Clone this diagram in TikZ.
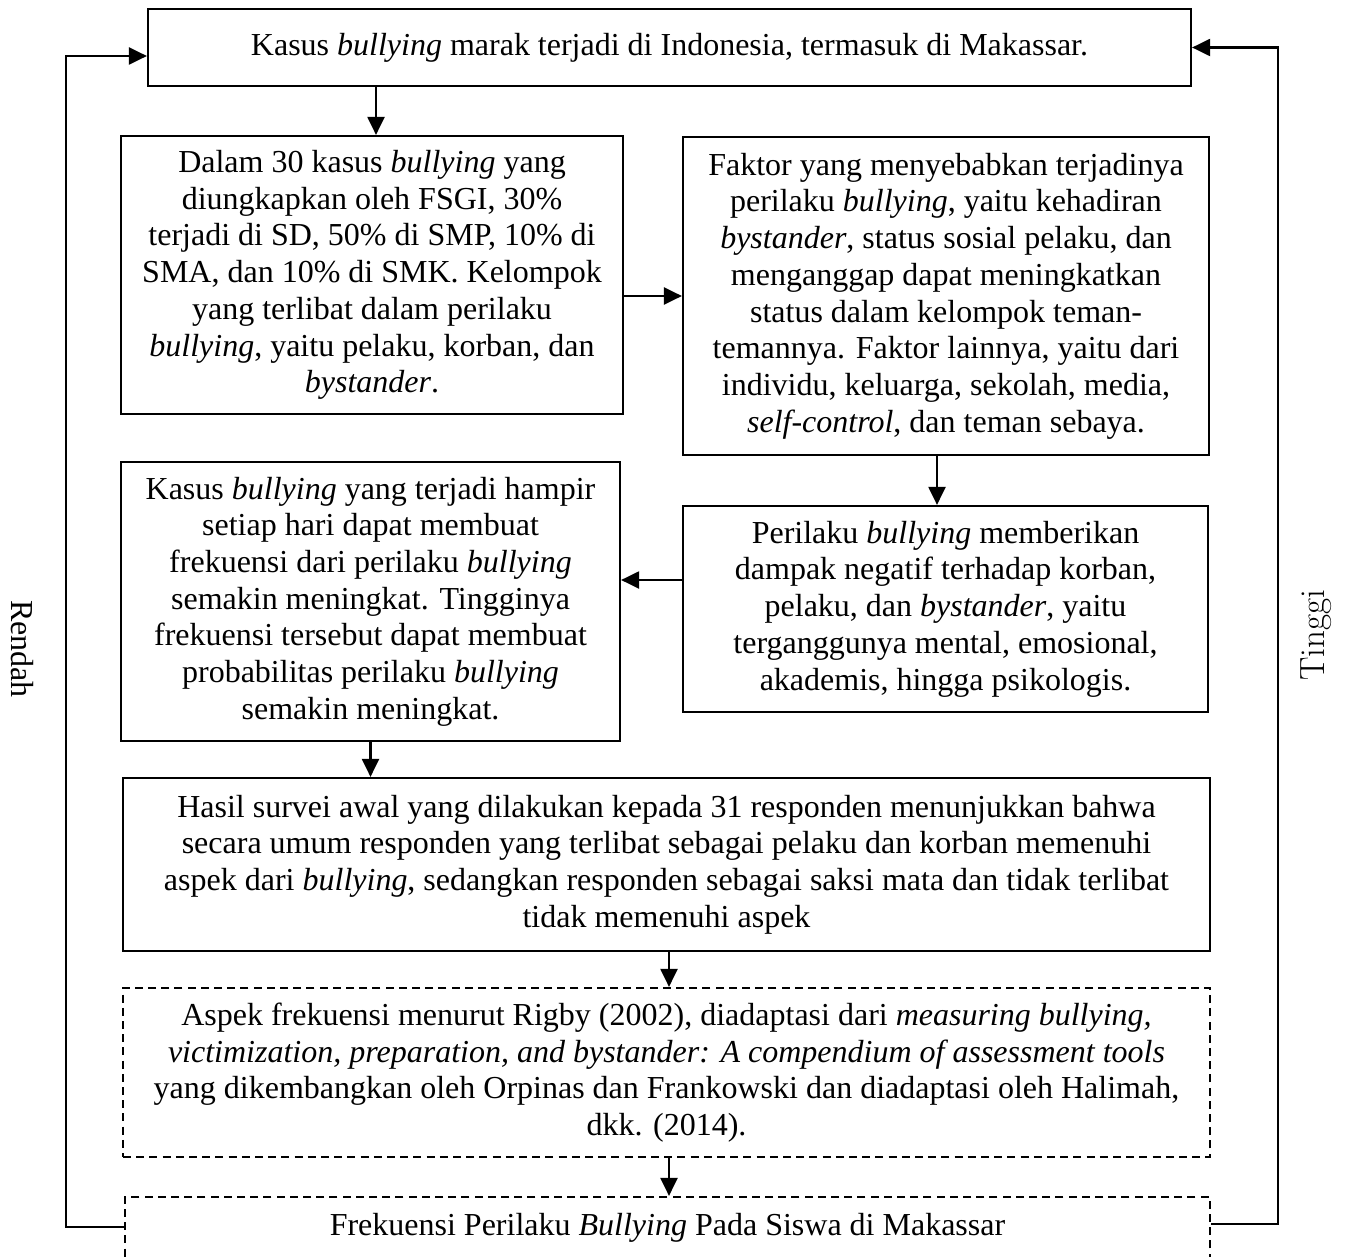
\documentclass[tikz,border=0pt]{standalone}
\usepackage{fontspec}
\newfontfamily\tnr{Liberation Serif}
\usetikzlibrary{arrows.meta,calc}
\begin{document}
\begin{tikzpicture}[x=0.5pt,y=-0.5pt,
  box/.style={draw,line width=1.1pt,align=center,inner sep=0pt,
    font=\tnr\fontsize{16}{18.35}\selectfont},
  dbox/.style={box,dash pattern=on 4pt off 2.6pt},
  arr/.style={line width=1.1pt,-{Triangle[length=9pt,width=8.5pt]}},
  lbl/.style={font=\fontsize{17.5}{20}\selectfont}]
\useasboundingbox (0,0) rectangle (1348,1257);
\clip (0,0) rectangle (1348,1257);

\node[box,minimum width=521.5pt,minimum height=38.5pt] (T) at (669.5,47.5)
  {Kasus \textit{bullying} marak terjadi di Indonesia, termasuk di Makassar.};

\node[box,minimum width=251pt,minimum height=139pt] (A) at (372,275)
  {Dalam 30 kasus \textit{bullying} yang\\
   diungkapkan oleh FSGI, 30\%\\
   terjadi di SD, 50\% di SMP, 10\% di\\
   SMA, dan 10\% di SMK. Kelompok\\
   yang terlibat dalam perilaku\\
   \textit{bullying}, yaitu pelaku, korban, dan\\
   \textit{bystander}.};

\node[box,minimum width=263pt,minimum height=159pt] (B) at (946,296)
  {Faktor yang menyebabkan terjadinya\\
   perilaku \textit{bullying}, yaitu kehadiran\\
   \textit{bystander}, status sosial pelaku, dan\\
   menganggap dapat meningkatkan\\
   status dalam kelompok teman-\\
   temannya. Faktor lainnya, yaitu dari\\
   individu, keluarga, sekolah, media,\\
   \textit{self-control}, dan teman sebaya.};

\node[box,minimum width=262.5pt,minimum height=103pt] (C) at (945.5,609)
  {Perilaku \textit{bullying} memberikan\\
   dampak negatif terhadap korban,\\
   pelaku, dan \textit{bystander}, yaitu\\
   terganggunya mental, emosional,\\
   akademis, hingga psikologis.};

\node[box,minimum width=249.5pt,minimum height=139.5pt] (D) at (370.5,601.5)
  {Kasus \textit{bullying} yang terjadi hampir\\
   setiap hari dapat membuat\\
   frekuensi dari perilaku \textit{bullying}\\
   semakin meningkat. Tingginya\\
   frekuensi tersebut dapat membuat\\
   probabilitas perilaku \textit{bullying}\\
   semakin meningkat.};

\node[box,minimum width=543.5pt,minimum height=86.5pt] (E) at (666.5,864.5)
  {Hasil survei awal yang dilakukan kepada 31 responden menunjukkan bahwa\\
   secara umum responden yang terlibat sebagai pelaku dan korban memenuhi\\
   aspek dari \textit{bullying}, sedangkan responden sebagai saksi mata dan tidak terlibat\\
   tidak memenuhi aspek};

\node[dbox,minimum width=543.5pt,minimum height=84.5pt] (F) at (666.5,1072.5)
  {Aspek frekuensi menurut Rigby (2002), diadaptasi dari \textit{measuring bullying,}\\
   \textit{victimization, preparation, and bystander: A compendium of assessment tools}\\
   yang dikembangkan oleh Orpinas dan Frankowski dan diadaptasi oleh Halimah,\\
   dkk. (2014).};

\node[dbox,minimum width=542.5pt,minimum height=31pt] (G) at (667.5,1228)
  {Frekuensi Perilaku \textit{Bullying} Pada Siswa di Makassar};

\node[rotate=-90,font=\tnr\fontsize{16}{18.35}\selectfont] (R) at (22,649) {Rendah};
\node[lbl,rotate=90] (H) at (1316,635) {Tinggi};

\draw[arr] ([xshift=2pt]A.north |- T.south) -- ([xshift=2pt]A.north);
\draw[arr] (A.east |- B.west) -- (B.west);
\draw[arr] ([xshift=-4.5pt]B.south) -- ([xshift=-4.5pt]B.south |- C.north);
\draw[arr] ([yshift=14.5pt]C.west) -- ([yshift=14.5pt]C.west -| D.east);
\draw[arr] (D.south) -- (D.south |- E.north);
\draw[arr] ([xshift=1.25pt]E.south) -- ([xshift=1.25pt]E.south |- F.north);
\draw[arr] ([xshift=1.25pt]F.south) -- ([xshift=1.25pt]F.south |- G.north);

\draw[arr] ([yshift=0.5pt]G.west) -- ++(-58,0) |- ([yshift=-4.25pt]T.west);
\draw[arr] ([yshift=2pt]G.east) -- ++(67,0) |- (T.east);
\end{tikzpicture}
\end{document}
